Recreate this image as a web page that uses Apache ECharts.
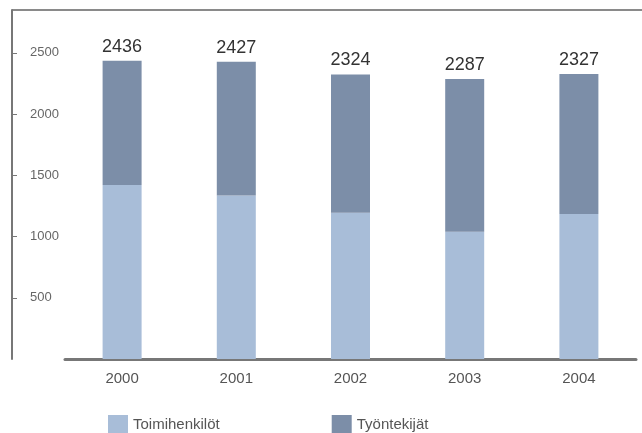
<!DOCTYPE html>
<html><head><meta charset="utf-8">
<script src="https://cdn.jsdelivr.net/npm/echarts@6/dist/echarts.min.js"></script>
<style>html,body{margin:0;padding:0;background:#fff}#c{width:642px;height:433px}</style>
</head><body><div id="c"></div>
<script>
const years = ['2000','2001','2002','2003','2004'];
const toimihenkilot = [1420, 1335, 1195, 1040, 1185];
const tyontekijat = [1016, 1092, 1129, 1247, 1142];
const totals = [2436, 2427, 2324, 2287, 2327];
const yTicks = [500, 1000, 1500, 2000, 2500];
const seriesNames = ['Toimihenkilöt', 'Työntekijät'];

const chart = echarts.init(document.getElementById('c'), null, {renderer: 'canvas'});
chart.setOption({
  animation: false,
  textStyle: {fontFamily: 'Liberation Sans, sans-serif'},
  grid: {left: 65, right: 6, top: 10, bottom: 74},
  graphic: [{type: 'line', shape: {x1: 12, y1: 10, x2: 642, y2: 10}, style: {stroke: '#8a8a8a', lineWidth: 2}}],
  legend: {
    left: 103, top: 410, itemWidth: 20, itemHeight: 20, itemGap: 112,
    icon: 'rect',
    textStyle: {color: '#555', fontSize: 15},
    data: seriesNames
  },
  xAxis: {
    type: 'category', data: years,
    axisLine: {lineStyle: {color: '#777', width: 3}},
    axisTick: {show: false},
    axisLabel: {color: '#555', fontSize: 15, margin: 12}
  },
  yAxis: {
    type: 'value', min: 0, max: 2850, offset: 53,
    splitLine: {show: false},
    axisLine: {show: true, lineStyle: {color: '#777', width: 2}},
    axisTick: {show: true, inside: true, length: 5, customValues: yTicks, lineStyle: {color: '#777'}},
    axisLabel: {inside: true, margin: 18, color: '#666', fontSize: 13, customValues: yTicks,
      formatter: v => String(v)}
  },
  series: [
    {name: seriesNames[0], type: 'bar', stack: 's', data: toimihenkilot, barWidth: 39,
     itemStyle: {color: '#a8bdd8'}},
    {name: seriesNames[1], type: 'bar', stack: 's', data: tyontekijat, barWidth: 39,
     itemStyle: {color: '#7c8ea8'},
     label: {show: true, position: 'top', distance: 5, fontSize: 18, color: '#333',
       formatter: p => totals[p.dataIndex]}}
  ]
});
</script></body></html>
